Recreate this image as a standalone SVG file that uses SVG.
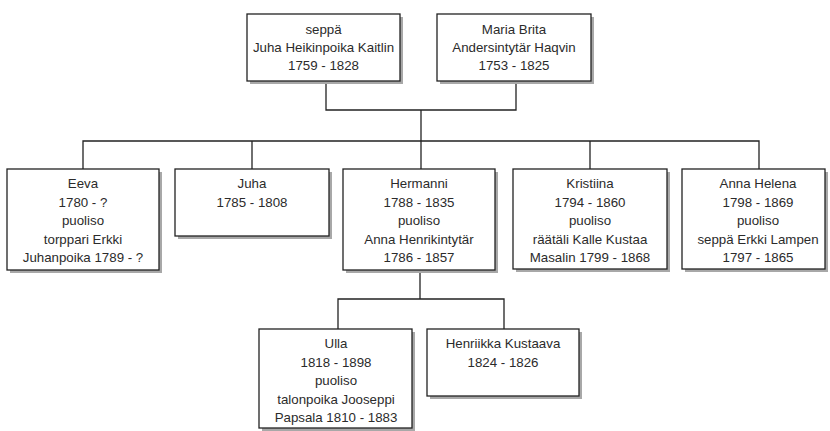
<svg xmlns="http://www.w3.org/2000/svg" width="830" height="431" viewBox="0 0 830 431">
<style>
.shadow{fill:#a8a8a8;}
.box{fill:#ffffff;stroke:#222222;stroke-width:1.3;}
.t{font-family:"Liberation Sans",Arial,sans-serif;font-size:13.3px;fill:#2b2b2b;text-anchor:middle;}
.c{fill:none;stroke:#222222;stroke-width:1.3;}
</style>
<rect width="830" height="431" fill="#ffffff"/>
<g id="connectors">
<path class="c" d="M326 81 V110 H516 V81"/>
<path class="c" d="M421 110 V141"/>
<path class="c" d="M83 169 V141 H759 V169"/>
<path class="c" d="M252 141 V169"/>
<path class="c" d="M421 141 V169"/>
<path class="c" d="M590 141 V169"/>
<path class="c" d="M420 270 V299"/>
<path class="c" d="M338 329 V299 H504 V329"/>
</g>
<g id="n-juha-heikinpoika">
<rect class="shadow" x="250" y="17" width="153" height="67"/>
<rect class="box" x="247" y="14" width="153" height="67"/>
<text class="t"><tspan x="323.5" y="34">seppä</tspan><tspan x="323.5" y="52">Juha Heikinpoika Kaitlin</tspan><tspan x="323.5" y="70">1759 - 1828</tspan></text>
</g>
<g id="n-maria-brita">
<rect class="shadow" x="440" y="17" width="154" height="67"/>
<rect class="box" x="437" y="14" width="154" height="67"/>
<text class="t"><tspan x="514" y="34">Maria Brita</tspan><tspan x="514" y="52">Andersintytär Haqvin</tspan><tspan x="514" y="70">1753 - 1825</tspan></text>
</g>
<g id="n-eeva">
<rect class="shadow" x="10" y="172" width="152" height="101"/>
<rect class="box" x="7" y="169" width="152" height="101"/>
<text class="t"><tspan x="83" y="188">Eeva</tspan><tspan x="83" y="206.6">1780 - ?</tspan><tspan x="83" y="225.2">puoliso</tspan><tspan x="83" y="243.8">torppari Erkki</tspan><tspan x="83" y="262.4">Juhanpoika 1789 - ?</tspan></text>
</g>
<g id="n-juha">
<rect class="shadow" x="178" y="172" width="154" height="67"/>
<rect class="box" x="175" y="169" width="154" height="67"/>
<text class="t"><tspan x="252" y="188">Juha</tspan><tspan x="252" y="206.6">1785 - 1808</tspan></text>
</g>
<g id="n-hermanni">
<rect class="shadow" x="346" y="172" width="152" height="101"/>
<rect class="box" x="343" y="169" width="152" height="101"/>
<text class="t"><tspan x="419" y="188">Hermanni</tspan><tspan x="419" y="206.6">1788 - 1835</tspan><tspan x="419" y="225.2">puoliso</tspan><tspan x="419" y="243.8">Anna Henrikintytär</tspan><tspan x="419" y="262.4">1786 - 1857</tspan></text>
</g>
<g id="n-kristiina">
<rect class="shadow" x="516" y="172" width="154" height="100"/>
<rect class="box" x="513" y="169" width="154" height="100"/>
<text class="t"><tspan x="590" y="188">Kristiina</tspan><tspan x="590" y="206.6">1794 - 1860</tspan><tspan x="590" y="225.2">puoliso</tspan><tspan x="590" y="243.8">räätäli Kalle Kustaa</tspan><tspan x="590" y="262.4">Masalin 1799 - 1868</tspan></text>
</g>
<g id="n-anna-helena">
<rect class="shadow" x="685" y="172" width="143" height="100"/>
<rect class="box" x="682" y="169" width="143" height="100"/>
<text class="t"><tspan x="758" y="188">Anna Helena</tspan><tspan x="758" y="206.6">1798 - 1869</tspan><tspan x="758" y="225.2">puoliso</tspan><tspan x="758" y="243.8">seppä Erkki Lampen</tspan><tspan x="758" y="262.4">1797 - 1865</tspan></text>
</g>
<g id="n-ulla">
<rect class="shadow" x="262" y="332" width="153" height="99"/>
<rect class="box" x="259" y="329" width="153" height="99"/>
<text class="t"><tspan x="336" y="348">Ulla</tspan><tspan x="336" y="366.5">1818 - 1898</tspan><tspan x="336" y="385">puoliso</tspan><tspan x="336" y="403.5">talonpoika Jooseppi</tspan><tspan x="336" y="422">Papsala 1810 - 1883</tspan></text>
</g>
<g id="n-henriikka">
<rect class="shadow" x="430" y="332" width="152" height="67"/>
<rect class="box" x="427" y="329" width="152" height="67"/>
<text class="t"><tspan x="503" y="348">Henriikka Kustaava</tspan><tspan x="503" y="366.5">1824 - 1826</tspan></text>
</g>
</svg>
